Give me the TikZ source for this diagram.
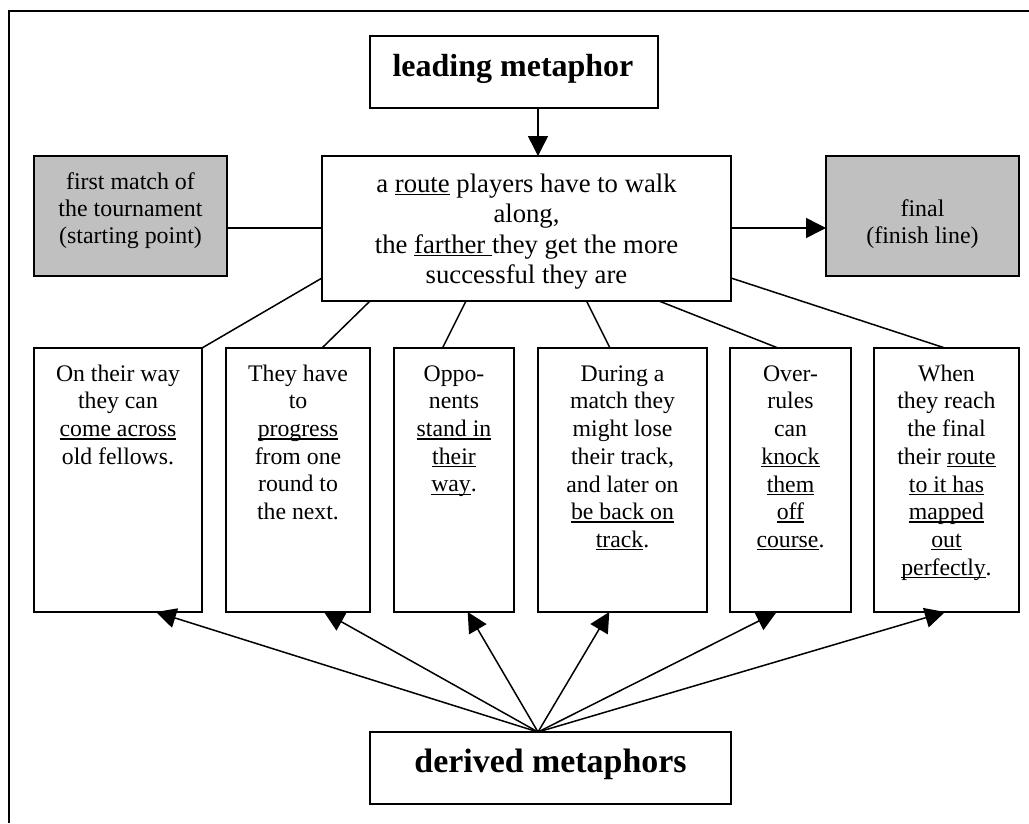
\documentclass[tikz,border=0pt]{standalone}
\usepackage{fontspec}
\setmainfont{Liberation Serif}
\usetikzlibrary{arrows.meta}
\definecolor{boxgray}{HTML}{C0C0C0}
\newsavebox\ulbox
\newcommand\ulx[1]{\sbox\ulbox{#1}\rlap{\rule[-3pt]{\wd\ulbox}{1.3pt}}\usebox\ulbox}
\begin{document}
\begin{tikzpicture}[x=1pt,y=-1pt,
  frameline/.style={line width=1.8pt},
  box/.style={draw, line width=1.7pt, inner sep=0pt, outer sep=0pt, anchor=north west},
  graybox/.style={box, fill=boxgray},
  link/.style={line width=1.5pt},
  arr/.style={line width=1.5pt, -{Triangle[length=20pt,width=20pt]}},
  smalltext/.style={anchor=north, inner sep=0pt, align=center, font=\fontsize{23.75}{27.7}\selectfont},
  graytext/.style={anchor=north, inner sep=0pt, align=center, font=\fontsize{23.9}{27}\selectfont},
  centertext/.style={anchor=north, inner sep=0pt, align=center, font=\fontsize{26.7}{30.5}\selectfont},
  titletext/.style={anchor=base, inner sep=0pt, font=\bfseries\fontsize{32}{36}\selectfont}
]
\useasboundingbox (0,0) rectangle (1029,823);
\fill[white] (0,0) rectangle (1029,823);
% outer frame (top and left edges)
\draw[frameline] (9,823) -- (9,11) -- (1029,11);

% boxes
\node[box, minimum width=288pt, minimum height=72pt] (lead) at (370,36) {};
\node[box, minimum width=409pt, minimum height=145pt] (cb) at (322,156) {};
\node[graybox, minimum width=193pt, minimum height=120pt] (g1) at (34,156) {};
\node[graybox, minimum width=193pt, minimum height=120pt] (g2) at (826,156) {};
\node[box, minimum width=168pt, minimum height=264pt] (b1) at (34,348) {};
\node[box, minimum width=144pt, minimum height=264pt] (b2) at (226,348) {};
\node[box, minimum width=120pt, minimum height=264pt] (b3) at (394,348) {};
\node[box, minimum width=169pt, minimum height=264pt] (b4) at (538,348) {};
\node[box, minimum width=121pt, minimum height=264pt] (b5) at (730,348) {};
\node[box, minimum width=145pt, minimum height=264pt] (b6) at (874,348) {};
\node[box, minimum width=361pt, minimum height=72pt] (der) at (370,732) {};

% texts
\node[titletext] (tlead) at (513,76) {leading metaphor};
\node[titletext, font=\bfseries\fontsize{33.9}{38}\selectfont] (tder) at (550.5,772) {derived metaphors};
\node[centertext] (tcb) at (526.5,170.6) {\strut a \ulx{route} players have to walk\\along,\\the \ulx{farther\ }they get the more\\successful they are};
\node[graytext] (tg1) at (130.5,170.1) {\strut first match of\\the tournament\\(starting point)};
\node[graytext] (tg2) at (922.5,197.8) {\strut final\\(finish line)};
\node[smalltext] (t1) at (118,361.6) {\strut On their way\\they can\\\ulx{come across}\\old fellows.};
\node[smalltext] (t2) at (298,361.6) {\strut They have\\to\\\ulx{progress}\\from one\\round to\\the next.};
\node[smalltext] (t3) at (454,361.6) {\strut Oppo-\\nents\\\ulx{stand in}\\\ulx{their}\\\ulx{way}.};
\node[smalltext] (t4) at (622.5,361.6) {\strut During a\\match they\\might lose\\their track,\\and later on\\\ulx{be back on}\\\ulx{track}.};
\node[smalltext] (t5) at (790.5,361.6) {\strut Over-\\rules\\can\\\ulx{knock}\\\ulx{them}\\\ulx{off}\\\ulx{course}.};
\node[smalltext] (t6) at (946.5,361.6) {\strut When\\they reach\\the final\\their \ulx{route}\\\ulx{to it has}\\\ulx{mapped}\\\ulx{out}\\\ulx{perfectly}.};

% helper coordinates
\coordinate (lx) at (538,0);
\coordinate (ly) at (0,228);

% connectors
\draw[arr] (lead.south -| lx) -- (cb.north -| lx);
\draw[link] (g1.east |- ly) -- (cb.west |- ly);
\draw[arr] (cb.east |- ly) -- (g2.west |- ly);

\draw[link] ([yshift=23pt]cb.south west) -- (b1.north east);
\draw[link] ([xshift=48pt]cb.south west) -- ([xshift=24pt]b2.north);
\draw[link] ([xshift=144pt]cb.south west) -- ([xshift=-11.5pt]b3.north);
\draw[link] ([xshift=264.5pt]cb.south west) -- ([xshift=-12.5pt]b4.north);
\draw[link] ([xshift=-72pt]cb.south east) -- ([xshift=-12.5pt]b5.north);
\draw[link] ([yshift=23pt]cb.south east) -- ([xshift=-1.5pt]b6.north);

\draw[arr] (der.north -| lx) -- ([xshift=38pt]b1.south);
\draw[arr] (der.north -| lx) -- ([xshift=26pt]b2.south);
\draw[arr] (der.north -| lx) -- ([xshift=13.7pt]b3.south);
\draw[arr] (der.north -| lx) -- ([xshift=-13.2pt]b4.south);
\draw[arr] (der.north -| lx) -- ([xshift=-13.8pt]b5.south);
\draw[arr] (der.north -| lx) -- ([xshift=-1.5pt]b6.south);
\end{tikzpicture}
\end{document}
